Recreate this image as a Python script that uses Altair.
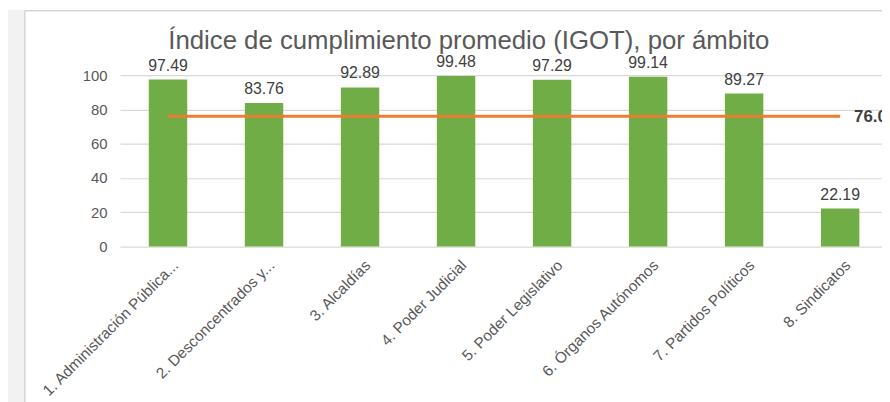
import altair as alt
import pandas as pd

categorias = [
    "1. Administración Pública...",
    "2. Desconcentrados y...",
    "3. Alcaldías",
    "4. Poder Judicial",
    "5. Poder Legislativo",
    "6. Órganos Autónomos",
    "7. Partidos Políticos",
    "8. Sindicatos",
]
valores = [97.49, 83.76, 92.89, 99.48, 97.29, 99.14, 89.27, 22.19]
promedio = 76.06
y_ticks = [0, 20, 40, 60, 80, 100]
titulo = "Índice de cumplimiento promedio (IGOT), por ámbito"

FONT = "Liberation Sans"

df = pd.DataFrame({"ambito": categorias, "valor": valores})
df_prom = pd.DataFrame({"ambito": categorias, "valor": [promedio] * len(categorias)})
df_prom_lbl = pd.DataFrame({"ambito": [categorias[-1]], "valor": [promedio],
                            "txt": [f"{promedio:.2f}"]})
one = pd.DataFrame({"k": [0]})

x_axis = alt.Axis(title=None, labelAngle=-45, labelAlign="right",
                  labelBaseline="top", labelFontSize=15.5, labelColor="#595959",
                  labelFont=FONT, labelPadding=11, labelOffset=3,
                  labelLimit=0, ticks=False, domain=False, grid=False,
                  labelOverlap=False)
x_scale = alt.Scale(paddingInner=0.6, paddingOuter=0.268, align=0.56)
y_axis = alt.Axis(title=None, values=y_ticks, tickCount=6, labelFontSize=15,
                  labelColor="#595959", labelFont=FONT, labelPadding=13,
                  labelOverlap=False, labelFlush=False,
                  domain=False, ticks=False, grid=True, gridColor="#d9d9d9",
                  gridWidth=1.2)
y_scale = alt.Scale(domain=[0, 100], nice=False)


def X():
    return alt.X("ambito:N", sort=categorias, scale=x_scale, axis=x_axis)


def Y():
    return alt.Y("valor:Q", scale=y_scale, axis=y_axis)


strip = alt.Chart(one).mark_rect(fill="#f2f2f2").encode(
    x=alt.value(-113), x2=alt.value(-96), y=alt.value(-66), y2=alt.value(330))
frame_v = alt.Chart(one).mark_rule(color="#d4d4d4", strokeWidth=1.5).encode(
    x=alt.value(-96), y=alt.value(-65), y2=alt.value(330))
frame_h = alt.Chart(one).mark_rule(color="#d4d4d4", strokeWidth=1.5).encode(
    x=alt.value(-96), x2=alt.value(780), y=alt.value(-65))

bars = alt.Chart(df).mark_bar(color="#70AD47").encode(x=X(), y=Y())
labels = alt.Chart(df).mark_text(
    baseline="alphabetic", dy=-9, fontSize=16, color="#404040", font=FONT
).encode(x=X(), y=Y(), text=alt.Text("valor:Q", format=".2f"))

line = alt.Chart(df_prom).mark_line(color="#ED7D31", strokeWidth=3).encode(x=X(), y=Y())
line_lbl = alt.Chart(df_prom_lbl).mark_text(
    align="left", baseline="middle", dx=14, dy=1, fontSize=17, fontWeight="bold",
    color="#404040", font=FONT
).encode(x=X(), y=Y(), text="txt:N")

title = alt.Chart(pd.DataFrame({"t": [titulo]})).mark_text(
    align="center", baseline="alphabetic", fontSize=26, color="#595959", font=FONT
).encode(x=alt.value(352), y=alt.value(-26), text="t:N")

chart = alt.layer(strip, frame_v, frame_h, bars, labels, line, line_lbl, title).properties(
    width=769, height=173,
    autosize=alt.AutoSizeParams(type="none"),
    padding={"left": 113, "top": 66, "right": 0, "bottom": 155},
    background="white",
).configure_view(stroke=None)

chart.save("out.html", embed_options={"renderer": "svg", "actions": False})
